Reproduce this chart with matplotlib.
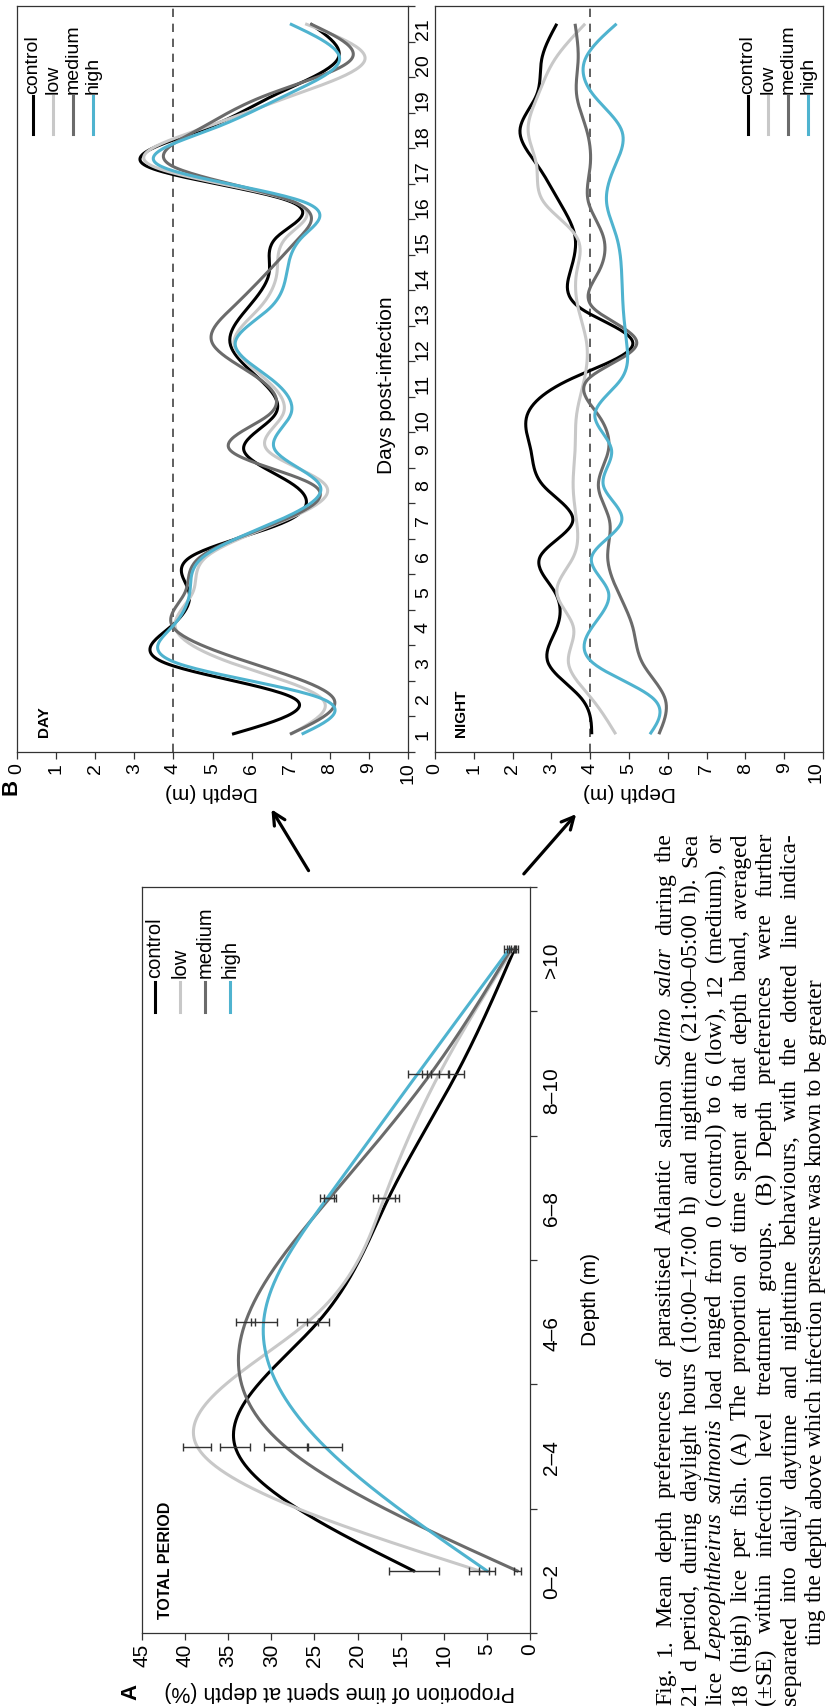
import matplotlib
matplotlib.use('Agg')
import matplotlib.pyplot as plt
import numpy as np
from matplotlib.lines import Line2D
from matplotlib.patches import FancyArrowPatch

# ---------------- data ----------------
groups = ['control', 'low', 'medium', 'high']
colors = {'control': '#000000', 'low': '#c8c8c8', 'medium': '#6b6b6b', 'high': '#4fb3cf'}

# Panel A: proportion of time at depth band (%), mean and SE
depth_bands = ['0–2', '2–4', '4–6', '6–8', '8–10', '>10']
prop_control = [13.5, 34.2, 24.6, 16.4, 8.5, 1.8]
prop_low = [5.9, 38.6, 25.8, 16.9, 10.5, 2.0]
prop_medium = [1.5, 28.4, 33.0, 23.2, 11.5, 2.2]
prop_high = [5.0, 23.8, 30.9, 23.5, 13.0, 2.4]
se_control = [2.9, 1.7, 1.3, 1.2, 0.9, 0.4]
se_low = [1.2, 1.6, 1.2, 1.3, 1.0, 0.4]
se_medium = [0.4, 2.5, 1.1, 0.7, 1.0, 0.5]
se_high = [0.9, 2.0, 1.5, 0.8, 1.1, 0.6]
prop_ticks = list(range(0, 50, 5))

# Panel B: mean depth (m) by day post-infection
days = list(range(1, 22))
day_control = [5.5, 7.1, 3.8, 3.9, 4.4, 4.45, 6.9, 7.1, 5.8, 6.6, 6.2, 5.45, 5.9, 6.45, 6.65, 6.98, 3.3, 4.7, 6.6, 8.2, 7.5]
day_low = [7.0, 7.8, 5.5, 4.05, 4.5, 4.85, 6.8, 7.9, 6.4, 6.8, 6.35, 5.55, 6.2, 6.65, 6.9, 7.05, 3.45, 4.6, 7.1, 8.9, 7.37]
day_medium = [6.98, 8.1, 6.0, 4.0, 4.3, 4.7, 6.75, 7.6, 5.45, 6.45, 6.2, 5.0, 5.5, 6.4, 7.24, 7.05, 3.96, 4.6, 6.4, 8.55, 7.5]
day_high = [7.28, 7.8, 4.1, 3.95, 4.42, 4.77, 6.65, 7.75, 6.6, 7.0, 6.5, 5.58, 6.47, 6.9, 7.3, 7.3, 3.66, 4.9, 6.9, 8.25, 6.98]

night_control = [4.04, 3.78, 2.92, 3.14, 3.09, 2.71, 3.55, 2.79, 2.47, 2.38, 3.5, 5.1, 3.74, 3.48, 3.61, 3.2, 2.65, 2.19, 2.62, 2.75, 3.14]
night_low = [4.66, 4.04, 3.44, 3.57, 3.14, 3.57, 3.65, 3.56, 3.61, 3.65, 3.85, 3.91, 3.69, 3.65, 3.65, 2.79, 2.62, 2.4, 2.66, 3.09, 3.87]
night_medium = [5.77, 5.93, 5.35, 5.1, 4.72, 4.45, 4.5, 4.21, 4.47, 4.2, 3.95, 5.2, 4.08, 4.21, 4.34, 3.95, 4.0, 3.91, 3.65, 3.69, 3.61]
night_high = [5.54, 5.63, 4.08, 4.04, 4.47, 4.04, 4.81, 4.34, 4.55, 4.12, 4.8, 4.94, 4.85, 4.81, 4.68, 4.42, 4.64, 4.81, 4.08, 3.87, 4.68]
depth_ticks = list(range(0, 11))
threshold_depth = 4

caption_lines = [
    "Fig. 1. Mean depth preferences of parasitised Atlantic salmon _Salmo_ _salar_ during the",
    "21 d period, during daylight hours (10:00–17:00 h) and nighttime (21:00–05:00 h). Sea",
    "lice _Lepeophtheirus_ _salmonis_ load ranged from 0 (control) to 6 (low), 12 (medium), or",
    "18 (high) lice per fish. (A) The proportion of time spent at that depth band, averaged",
    "(±SE) within infection level treatment groups. (B) Depth preferences were further",
    "separated into daily daytime and nighttime behaviours, with the dotted line indica-",
    "ting the depth above which infection pressure was known to be greater",
]

# ---------------- helpers ----------------
W, H = 827, 1708
SANS = ['Liberation Sans', 'DejaVu Sans']
SERIF = ['Liberation Serif', 'DejaVu Serif']
plt.rcParams['font.family'] = SANS
fig = plt.figure(figsize=(W / 100, H / 100), dpi=100)


def rect(x0, y0, x1, y1):
    return [x0 / W, 1 - y1 / H, (x1 - x0) / W, (y1 - y0) / H]


def fx(x):
    return x / W


def fy(y):
    return 1 - y / H


def spline(x, y, n=500):
    x = np.asarray(x, float)
    y = np.asarray(y, float)
    N = len(x)
    h = np.diff(x)
    A = np.zeros((N, N))
    b = np.zeros(N)
    A[0, 0] = A[-1, -1] = 1
    for i in range(1, N - 1):
        A[i, i - 1] = h[i - 1]
        A[i, i] = 2 * (h[i - 1] + h[i])
        A[i, i + 1] = h[i]
        b[i] = 6 * ((y[i + 1] - y[i]) / h[i] - (y[i] - y[i - 1]) / h[i - 1])
    M = np.linalg.solve(A, b)
    xs = np.linspace(x[0], x[-1], n)
    idx = np.clip(np.searchsorted(x, xs) - 1, 0, N - 2)
    x0 = x[idx]
    x1 = x[idx + 1]
    hh = x1 - x0
    t0 = x1 - xs
    t1 = xs - x0
    ys = (M[idx] * t0 ** 3 + M[idx + 1] * t1 ** 3) / (6 * hh) \
        + (y[idx] / hh - M[idx] * hh / 6) * t0 + (y[idx + 1] / hh - M[idx + 1] * hh / 6) * t1
    return xs, ys


SPINE_C = '#333333'
LW = 2.2
TICK_FS_B = 14


def style_spines(ax):
    for s in ax.spines.values():
        s.set_linewidth(0.9)
        s.set_color(SPINE_C)


# ---------------- Panel B ----------------
def panel_B(rect_px, series, show_day_labels, last_label=True):
    ax = fig.add_axes(rect(*rect_px))
    for g, vals in zip(groups, series):
        ys, xs = spline(days, vals)
        ax.plot(xs, ys, color=colors[g], lw=LW, solid_capstyle='butt')
    ax.axvline(threshold_depth, color='#444444', lw=1.2, dashes=(5, 4), zorder=0)
    ax.set_xlim(0, 10)
    ax.set_ylim(0.5, 21.5)
    ax.set_xticks(depth_ticks)
    labels = [str(t) for t in depth_ticks]
    if not last_label:
        labels[-1] = ''
    ax.set_xticklabels(labels)
    ax.tick_params(axis='x', direction='out', length=5, width=0.9, color=SPINE_C,
                   labelsize=TICK_FS_B, labelrotation=90, pad=2)
    ax.yaxis.tick_right()
    ax.set_yticks(days)
    ax.set_yticks(np.arange(0.5, 22, 1), minor=True)
    if show_day_labels:
        ax.set_yticklabels([str(d) for d in days])
        ax.tick_params(axis='y', which='major', length=0, labelsize=TICK_FS_B, labelrotation=90, pad=5)
        ax.tick_params(axis='y', which='minor', length=5, width=0.9, color=SPINE_C, direction='out')
    else:
        ax.tick_params(axis='y', which='both', length=0, labelright=False)
    style_spines(ax)
    return ax


axD = panel_B((17, 7, 408, 753), [day_control, day_low, day_medium, day_high], True)
axN = panel_B((435, 7, 823, 753), [night_control, night_low, night_medium, night_high], False,
              last_label=False)
# last NIGHT depth label drawn slightly inward so it stays inside the page
fig.text(fx(816), fy(761), str(depth_ticks[-1]), rotation=90, rotation_mode='anchor',
         ha='right', va='center', fontsize=TICK_FS_B)

# ---------------- Panel A ----------------
axA = fig.add_axes(rect(142, 888, 530, 1634))
idx = np.arange(len(depth_bands))
for g, vals, se in zip(groups, [prop_control, prop_low, prop_medium, prop_high],
                       [se_control, se_low, se_medium, se_high]):
    ys, xs = spline(idx, vals)
    axA.plot(xs, ys, color=colors[g], lw=LW)
    axA.errorbar(vals, idx, xerr=se, fmt='none', ecolor='#333333', elinewidth=1.0,
                 capsize=3, capthick=1.0, zorder=5)
axA.set_xlim(45, 0)
axA.set_ylim(-0.5, 5.5)
axA.set_xticks(prop_ticks)
axA.set_xticklabels([str(t) for t in prop_ticks])
axA.tick_params(axis='x', direction='out', length=5, width=0.9, color=SPINE_C,
                labelsize=15, labelrotation=90, pad=2)
axA.yaxis.tick_right()
axA.set_yticks(idx)
axA.set_yticklabels(depth_bands)
axA.set_yticks(np.arange(-0.5, 6, 1), minor=True)
axA.tick_params(axis='y', which='major', length=0, labelsize=15, labelrotation=90, pad=9)
axA.tick_params(axis='y', which='minor', length=5, width=0.9, color=SPINE_C, direction='out')
style_spines(axA)

# ---------------- legends ----------------
def legend_rot(x_lines, y_top, y_bot, y_text, fs):
    for g, xl in zip(groups, x_lines):
        fig.add_artist(Line2D([fx(xl), fx(xl)], [fy(y_bot), fy(y_top)],
                              transform=fig.transFigure, color=colors[g], lw=LW))
        fig.text(fx(xl), fy(y_text), g, rotation=90, rotation_mode='anchor',
                 ha='left', va='center', fontsize=fs)


legend_rot([33, 53, 73, 93], 97, 135, 94, 14)
legend_rot([748, 768, 788, 808], 97, 135, 94, 14)
legend_rot([155, 180, 205, 230], 983, 1013, 978, 14.5)

# ---------------- texts ----------------
def rtext(x, y, s, **kw):
    fig.text(fx(x), fy(y), s, rotation=90, rotation_mode='anchor', **kw)


rtext(48, 737, 'DAY', ha='left', va='baseline', fontsize=11, fontweight='bold')
rtext(465, 737, 'NIGHT', ha='left', va='baseline', fontsize=11, fontweight='bold')
rtext(170, 1619, 'TOTAL PERIOD', ha='left', va='baseline', fontsize=11.5, fontweight='bold')
rtext(386, 385, 'Days post-infection', ha='center', va='center', fontsize=15)
rtext(590, 1300, 'Depth (m)', ha='center', va='center', fontsize=15)
rtext(131, 1692, 'A', ha='center', va='center', fontsize=16, fontweight='bold')
rtext(11, 787, 'B', ha='center', va='center', fontsize=16, fontweight='bold')
fig.text(fx(212), fy(793), 'Depth (m)', rotation=180, ha='center', va='center', fontsize=15)
fig.text(fx(629), fy(793), 'Depth (m)', rotation=180, ha='center', va='center', fontsize=15)
fig.text(fx(340), fy(1692), 'Proportion of time spent at depth (%)', rotation=180,
         ha='center', va='center', fontsize=15.5)

# ---------------- arrows ----------------
for tail, head in [((310, 874), (270, 808)), ((522, 877), (578, 813))]:
    fig.add_artist(FancyArrowPatch((fx(tail[0]), fy(tail[1])), (fx(head[0]), fy(head[1])),
                                   transform=fig.transFigure, arrowstyle='->',
                                   mutation_scale=22, lw=2.3, color='black'))

# ---------------- caption (justified, rotated) ----------------
renderer = fig.canvas.get_renderer()


def parse(line):
    out = []
    for w in line.split(' '):
        if w.startswith('_') and w.endswith('_'):
            out.append((w[1:-1], True))
        else:
            out.append((w, False))
    return out


def width_of(s, italic, fs):
    t = fig.text(0, 0, s, fontsize=fs, family=SERIF, style='italic' if italic else 'normal')
    w = t.get_window_extent(renderer).width
    t.remove()
    return w


cap_start, cap_end = 1705, 833
cap_len = cap_start - cap_end
fs0 = 15
nat = []
for ln in caption_lines[:-1]:
    ws = parse(ln)
    tot = sum(width_of(w, it, fs0) for w, it in ws)
    sp = width_of('a a', False, fs0) - width_of('aa', False, fs0)
    nat.append(tot + sp * (len(ws) - 1))
cap_fs = float(np.clip(fs0 * 0.985 * cap_len / max(nat), 12, 17))
space_w = width_of('a a', False, cap_fs) - width_of('aa', False, cap_fs)

for i, ln in enumerate(caption_lines):
    ws = parse(ln)
    widths = [width_of(w, it, cap_fs) for w, it in ws]
    xb = 671 + 25.0 * i
    if i < len(caption_lines) - 1:
        gap = (cap_len - sum(widths)) / (len(ws) - 1)
        ypos = cap_start
    else:
        gap = space_w
        ypos = 1645
    for (w, it), wd in zip(ws, widths):
        fig.text(fx(xb), fy(ypos), w, rotation=90, rotation_mode='anchor', ha='left',
                 va='baseline', fontsize=cap_fs, family=SERIF,
                 style='italic' if it else 'normal')
        ypos -= wd + gap

fig.savefig('out.png', dpi=100)
